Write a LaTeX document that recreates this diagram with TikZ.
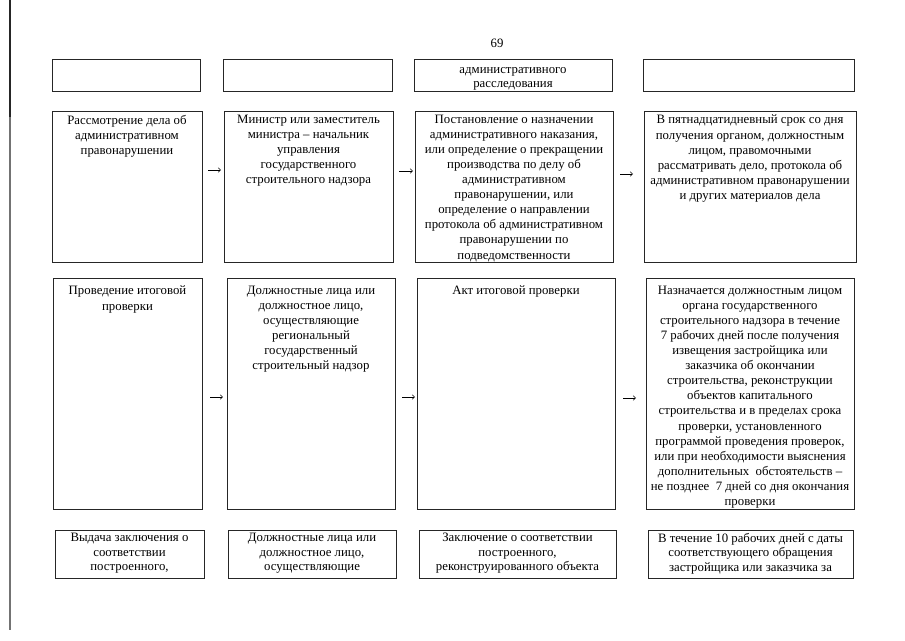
\documentclass[tikz,border=0pt]{standalone}
\usepackage{fontspec}
\setmainfont{Liberation Serif}
\usetikzlibrary{arrows.meta}
\begin{document}
\begin{tikzpicture}[x=1pt,y=-1pt,
  box/.style={draw=black!85,line width=0.7pt,inner sep=0pt,outer sep=0pt},
  txt/.style={font=\fontsize{12.8}{15.05}\selectfont,align=center,inner sep=0pt,anchor=north},
  txts/.style={font=\fontsize{12.8}{14}\selectfont,align=center,inner sep=0pt,anchor=north},
  txtr/.style={font=\fontsize{12.8}{14.6}\selectfont,align=center,inner sep=0pt,anchor=north},
  arr/.style={line width=0.5pt,-{Straight Barb[length=2.5pt,width=4.5pt]}}]
\fill[white] (0,0) rectangle (905,640);
\useasboundingbox (0,0) rectangle (905,640);
% page edge line
\draw[black!55,line width=1.5pt] (10,0) -- (10,630);
\draw[black!85,line width=1.5pt] (10,0) -- (10,117);
% page number
\node[font=\fontsize{12.8}{14}\selectfont,inner sep=0pt] (pnum) at (497,43) {69};
% row 1
\node[box,minimum width=148,minimum height=32] (r1c1) at (126,75) {};
\node[box,minimum width=169,minimum height=32] (r1c2) at (307.5,75) {};
\node[box,minimum width=198,minimum height=32] (r1c3) at (513,75) {};
\node[box,minimum width=211,minimum height=32] (r1c4) at (748.5,75) {};
\node[txts] (t13) at ([yshift=-8pt]r1c3.north) {административного\\расследования};
% row 2
\node[box,minimum width=150,minimum height=151] (r2c1) at (127,186.5) {};
\node[box,minimum width=169,minimum height=151] (r2c2) at (308.5,186.5) {};
\node[box,minimum width=198,minimum height=151] (r2c3) at (514,186.5) {};
\node[box,minimum width=212,minimum height=151] (r2c4) at (750,186.5) {};
\node[txt] (t21) at ([yshift=-4pt]r2c1.north) {Рассмотрение дела об\\административном\\правонарушении};
\node[txt] (t22) at ([yshift=-4pt]r2c2.north) {Министр или заместитель\\министра – начальник\\управления\\государственного\\строительного надзора};
\node[txt] (t23) at ([yshift=-4pt]r2c3.north) {Постановление о назначении\\административного наказания,\\или определение о прекращении\\производства по делу об\\административном\\правонарушении, или\\определение о направлении\\протокола об административном\\правонарушении по\\подведомственности};
\node[txt] (t24) at ([yshift=-4pt]r2c4.north) {В пятнадцатидневный срок со дня\\получения органом, должностным\\лицом, правомочными\\рассматривать дело, протокола об\\административном правонарушении\\и других материалов дела};
% row 3
\node[box,minimum width=149,minimum height=231] (r3c1) at (127.5,393.5) {};
\node[box,minimum width=168,minimum height=231] (r3c2) at (311,393.5) {};
\node[box,minimum width=198,minimum height=231] (r3c3) at (516,393.5) {};
\node[box,minimum width=208,minimum height=231] (r3c4) at (750,393.5) {};
\node[txt] (t31) at ([yshift=-8pt]r3c1.north) {Проведение итоговой\\проверки};
\node[txt] (t32) at ([yshift=-8pt]r3c2.north) {Должностные лица или\\должностное лицо,\\осуществляющие\\региональный\\государственный\\строительный надзор};
\node[txt] (t33) at ([yshift=-8pt]r3c3.north) {Акт итоговой проверки};
\node[txt] (t34) at ([yshift=-8pt]r3c4.north) {Назначается должностным лицом\\органа государственного\\строительного надзора в течение\\7 рабочих дней после получения\\извещения застройщика или\\заказчика об окончании\\строительства, реконструкции\\объектов капитального\\строительства и в пределах срока\\проверки, установленного\\программой проведения проверок,\\или при необходимости выяснения\\дополнительных\ \ обстоятельств –\\не позднее\ \ 7 дней со дня окончания\\проверки};
% row 4
\node[box,minimum width=149,minimum height=48] (r4c1) at (129.5,554) {};
\node[box,minimum width=168,minimum height=48] (r4c2) at (312,554) {};
\node[box,minimum width=197,minimum height=48] (r4c3) at (517.5,554) {};
\node[box,minimum width=205,minimum height=48] (r4c4) at (750.5,554) {};
\node[txtr] (t41) at ([yshift=-3pt]r4c1.north) {Выдача заключения о\\соответствии\\построенного,};
\node[txtr] (t42) at ([yshift=-3pt]r4c2.north) {Должностные лица или\\должностное лицо,\\осуществляющие};
\node[txtr] (t43) at ([yshift=-3pt]r4c3.north) {Заключение о соответствии\\построенного,\\реконструированного объекта};
\node[txtr] (t44) at ([yshift=-3pt]r4c4.north) {В течение 10 рабочих дней с даты\\соответствующего обращения\\застройщика или заказчика за};
% arrows row 2
\coordinate (a21s) at (208,170); \coordinate (a21e) at (221,170);
\coordinate (a22s) at (399,171); \coordinate (a22e) at (413,171);
\coordinate (a23s) at (620,174); \coordinate (a23e) at (633,174);
\draw[arr] (a21s) -- (a21e);
\draw[arr] (a22s) -- (a22e);
\draw[arr] (a23s) -- (a23e);
% arrows row 3
\coordinate (a31s) at (210,397); \coordinate (a31e) at (223,397);
\coordinate (a32s) at (402,397); \coordinate (a32e) at (415,397);
\coordinate (a33s) at (623,398); \coordinate (a33e) at (636,398);
\draw[arr] (a31s) -- (a31e);
\draw[arr] (a32s) -- (a32e);
\draw[arr] (a33s) -- (a33e);
\end{tikzpicture}
\end{document}
